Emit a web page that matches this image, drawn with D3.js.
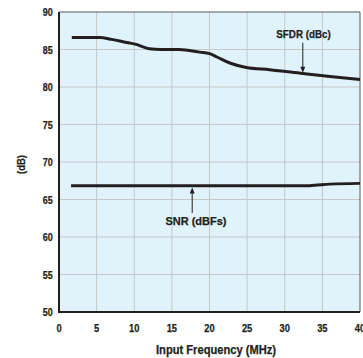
<!DOCTYPE html>
<html><head><meta charset="utf-8">
<script src="https://cdn.jsdelivr.net/npm/d3@7"></script>
<style>
body{margin:0;background:#fff;}
text{font-family:"Liberation Sans",Arial,sans-serif;font-weight:bold;fill:#231f20;stroke:#231f20;stroke-width:0.25px;}
</style></head>
<body><svg id="c" width="363" height="358"></svg>
<script>
const xTicks = [0,5,10,15,20,25,30,35,40];
const yTicks = [50,55,60,65,70,75,80,85,90];
const sfdrFreq = [1.7,5.4,7,9.2,10,12,13.5,16,18.7,20,21,22.7,24.9,28,32.4,36,40];
const sfdrVal  = [86.6,86.6,86.35,85.9,85.75,85.1,85.0,85.0,84.65,84.45,84.0,83.2,82.6,82.3,81.8,81.4,81.0];
const snrFreq = [1.6,5,10,20,30,33.3,36,40];
const snrVal  = [66.85,66.85,66.85,66.85,66.85,66.85,67.05,67.15];
const labels = ["SFDR (dBc)","SNR (dBFs)"];
const labelX = [32.5,18.2];
const labelY = [87.1,62.1];
const arrowX = [32.4,17.7];
const arrowFrom = [85.9,63.2];
const arrowTo = [81.9,66.6];

const svg = d3.select("#c");
const L=59,R=360,T=12,B=312;
const x = d3.scaleLinear().domain([0,40]).range([L,R]);
const y = d3.scaleLinear().domain([50,90]).range([B,T]);

svg.append("rect").attr("x",L).attr("y",T).attr("width",R-L).attr("height",B-T).attr("fill","#e0f3fb");
// grid
svg.append("g").selectAll("line").data(xTicks.slice(1,-1)).join("line")
  .attr("x1",d=>x(d)).attr("x2",d=>x(d)).attr("y1",T).attr("y2",B)
  .attr("stroke","#c6c8ca").attr("stroke-width",1);
svg.append("g").selectAll("line").data(yTicks.slice(1,-1)).join("line")
  .attr("y1",d=>y(d)).attr("y2",d=>y(d)).attr("x1",L).attr("x2",R)
  .attr("stroke","#c6c8ca").attr("stroke-width",1);
// frame
svg.append("line").attr("x1",L).attr("x2",R).attr("y1",T).attr("y2",T).attr("stroke","#58595b").attr("stroke-width",1);
svg.append("line").attr("x1",R).attr("x2",R).attr("y1",T).attr("y2",B).attr("stroke","#58595b").attr("stroke-width",1);
svg.append("line").attr("x1",L).attr("x2",L).attr("y1",T).attr("y2",B+1).attr("stroke","#231f20").attr("stroke-width",2);
svg.append("line").attr("x1",L-1).attr("x2",R).attr("y1",B).attr("y2",B).attr("stroke","#231f20").attr("stroke-width",2);

// tick labels
svg.append("g").selectAll("text").data(yTicks).join("text")
  .attr("x",52.7).attr("y",d=>y(d)+4).attr("text-anchor","end").attr("font-size",11.5)
  .attr("textLength",d=>String(d).length*5).attr("lengthAdjust","spacingAndGlyphs").text(d=>d);
svg.append("g").selectAll("text").data(xTicks).join("text")
  .attr("x",d=>x(d)).attr("y",332.3).attr("text-anchor","middle").attr("font-size",11.5)
  .attr("textLength",d=>String(d).length*5.2).attr("lengthAdjust","spacingAndGlyphs").text(d=>d);

svg.append("text").attr("x",216).attr("y",353.5).attr("text-anchor","middle").attr("font-size",12)
  .attr("textLength",120).attr("lengthAdjust","spacingAndGlyphs").text("Input Frequency (MHz)");
svg.append("text").attr("transform","translate(25,164.5) rotate(-90)").attr("text-anchor","middle").attr("font-size",10.5)
  .attr("textLength",19).attr("lengthAdjust","spacingAndGlyphs").text("(dB)");

const line = d3.line().x(d=>x(d[0])).y(d=>y(d[1])).curve(d3.curveMonotoneX);
svg.append("path").attr("d",line(sfdrFreq.map((f,i)=>[f,sfdrVal[i]]))).attr("fill","none").attr("stroke","#231f20").attr("stroke-width",3);
svg.append("path").attr("d",line(snrFreq.map((f,i)=>[f,snrVal[i]]))).attr("fill","none").attr("stroke","#231f20").attr("stroke-width",3);

// annotations
const labelW = [54.5,61];
labels.forEach((t,i)=>{
  svg.append("text").attr("x",x(labelX[i])).attr("y",y(labelY[i])+4).attr("text-anchor","middle").attr("font-size",11)
    .attr("textLength",labelW[i]).attr("lengthAdjust","spacingAndGlyphs").text(t);
  const x0=x(arrowX[i]), y0=y(arrowFrom[i]), y1=y(arrowTo[i]);
  const dir = y1>y0?1:-1;
  svg.append("line").attr("x1",x0).attr("x2",x0).attr("y1",y0).attr("y2",y1-dir*5).attr("stroke","#231f20").attr("stroke-width",1);
  svg.append("path").attr("d",`M${x0-2.5},${y1-dir*6}L${x0+2.5},${y1-dir*6}L${x0},${y1}Z`).attr("fill","#231f20");
});
</script></body></html>
